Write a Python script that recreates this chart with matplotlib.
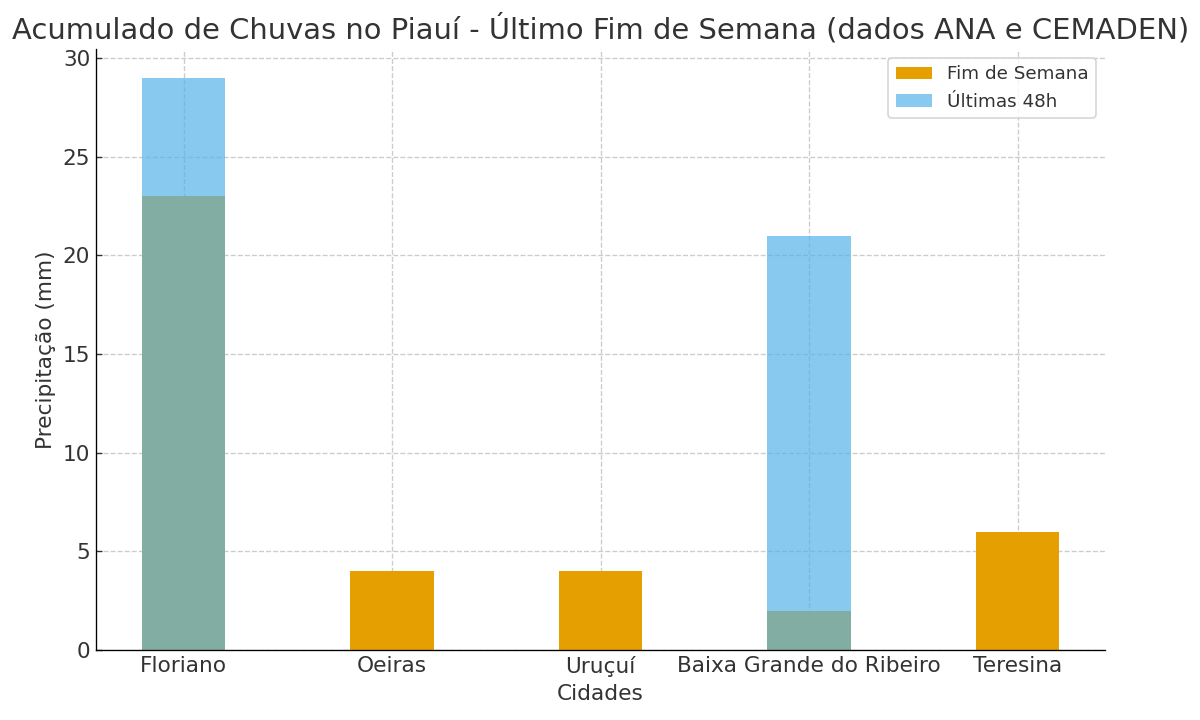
import matplotlib
matplotlib.use("Agg")
import matplotlib.pyplot as plt
import numpy as np

cidades = ["Floriano", "Oeiras", "Uruçuí", "Baixa Grande do Ribeiro", "Teresina"]
fim_de_semana = [23, 4, 4, 2, 6]
ultimas_48h = [29, 0, 0, 21, 0]

plt.rcParams['font.family'] = ['DejaVu Sans']
plt.rcParams['text.color'] = '#333333'
plt.rcParams['axes.labelcolor'] = '#333333'
plt.rcParams['xtick.color'] = '#333333'
plt.rcParams['ytick.color'] = '#333333'

fig, ax = plt.subplots(figsize=(10, 6), dpi=120)
x = np.arange(len(cidades))
w = 0.4
ax.bar(x, fim_de_semana, w, color='#E69F00', label='Fim de Semana')
ax.bar(x, ultimas_48h, w, color='#56B4E9', alpha=0.7, label='Últimas 48h')

ax.set_xticks(x)
ax.set_xticklabels(cidades, fontsize=13)
ax.tick_params(axis='y', labelsize=13)
ax.tick_params(axis='both', direction='in')
ax.set_xlabel('Cidades', fontsize=13)
ax.set_ylabel('Precipitação (mm)', fontsize=13)
ax.set_title('Acumulado de Chuvas no Piauí - Último Fim de Semana (dados ANA e CEMADEN)', fontsize=17.4)
ax.grid(True, linestyle='--', color='#cccccc', linewidth=0.8)
ax.set_axisbelow(True)
for s in ['top', 'right']:
    ax.spines[s].set_visible(False)
ax.legend(fontsize=11, loc='upper right')
fig.subplots_adjust(left=0.08, right=0.921, top=0.932, bottom=0.097)
fig.savefig('out.png')
